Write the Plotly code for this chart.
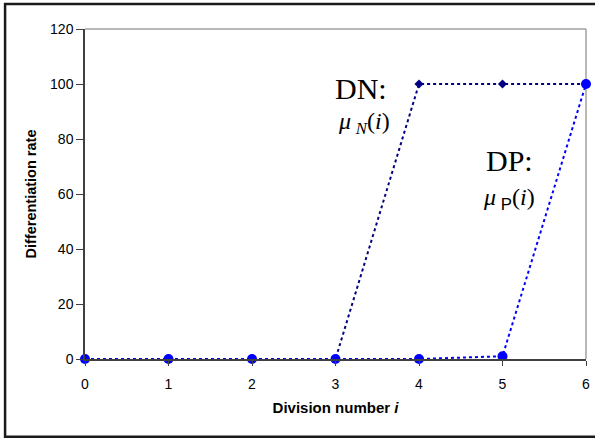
import plotly.graph_objects as go

division = [0, 1, 2, 3, 4, 5, 6]
dn_rate = [0, 0, 0, 0, 100, 100, 100]
dp_rate = [0, 0, 0, 0, 0, 1, 100]
x_ticks = [0, 1, 2, 3, 4, 5, 6]
y_ticks = [0, 20, 40, 60, 80, 100, 120]

fig = go.Figure()
fig.add_trace(go.Scatter(
    x=division, y=dn_rate, mode="lines+markers", name="DN",
    line=dict(color="#000080", width=2, dash="dot"),
    marker=dict(symbol="diamond", size=7, color="#000080"),
    cliponaxis=False, showlegend=False))
fig.add_trace(go.Scatter(
    x=division, y=dp_rate, mode="lines+markers", name="DP",
    line=dict(color="#0000FF", width=2, dash="dot"),
    marker=dict(symbol="circle", size=10, color="#0000FF"),
    cliponaxis=False, showlegend=False))

W, H = 595, 439
L, R, T, B = 85, 8.5, 29, 79.7
pw, ph = W - L - R, H - T - B

def px(x):
    return (x - L) / pw

def py(y):
    return (H - B - y) / ph

tick_font = dict(family="Liberation Sans, Arial", size=14, color="#000")
serif = "Liberation Serif, Times New Roman"
fig.update_layout(
    width=W, height=H,
    margin=dict(l=L, r=R, t=T, b=B, autoexpand=False),
    paper_bgcolor="white", plot_bgcolor="white",
    xaxis=dict(range=[0, 6], tickvals=x_ticks, showgrid=False, zeroline=False,
               showline=True, linecolor="#404040", linewidth=1.5,
               ticks="outside", ticklen=5, tickcolor="#404040", tickwidth=1,
               ticklabelstandoff=6,
               tickfont=tick_font, fixedrange=True,
               title=dict(text="<b>Division number <i>i</i></b>", standoff=12,
                          font=dict(family="Liberation Sans, Arial", size=15, color="#000"))),
    yaxis=dict(range=[0, 120], tickvals=y_ticks, showgrid=False, zeroline=False,
               showline=True, linecolor="#404040", linewidth=1.5,
               ticks="outside", ticklen=7, tickcolor="#404040", tickwidth=1,
               tickfont=tick_font, fixedrange=True,
               title=dict(text="<b>Differentiation rate</b>", standoff=10,
                          font=dict(family="Liberation Sans, Arial", size=14.5, color="#000"))),
    shapes=[
        dict(type="rect", xref="paper", yref="paper",
             x0=px(5), x1=px(602), y0=py(437), y1=py(4),
             line=dict(color="#1a1a1a", width=2.5), layer="below"),
        dict(type="line", xref="paper", yref="paper", x0=0, x1=1, y0=1, y1=1,
             line=dict(color="#a0a0a0", width=1.5), layer="below"),
        dict(type="line", xref="paper", yref="paper", x0=1, x1=1, y0=0, y1=1,
             line=dict(color="#a0a0a0", width=1.5), layer="below"),
    ],
    annotations=[
        dict(text="DN:", x=px(361), y=py(89), xref="paper", yref="paper",
             xanchor="center", yanchor="middle",
             showarrow=False, font=dict(family=serif, size=30, color="#000")),
        dict(text="<i>μ</i>&#8201;<sub><i>N</i></sub>(<i>i</i>)", x=px(364), y=py(123),
             xref="paper", yref="paper", xanchor="center", yanchor="middle",
             showarrow=False, font=dict(family=serif, size=24, color="#000")),
        dict(text="DP:", x=px(510), y=py(161), xref="paper", yref="paper",
             xanchor="center", yanchor="middle",
             showarrow=False, font=dict(family=serif, size=30, color="#000")),
        dict(text="<i>μ</i>&#8201;<sub><span style='font-family:Liberation Sans'>P</span></sub>(<i>i</i>)",
             x=px(509), y=py(199), xref="paper", yref="paper",
             xanchor="center", yanchor="middle",
             showarrow=False, font=dict(family=serif, size=24, color="#000")),
    ],
)

fig.write_html("out.html", config={"displayModeBar": False},
               post_script="document.body.style.margin='0';document.body.style.overflow='hidden';")
